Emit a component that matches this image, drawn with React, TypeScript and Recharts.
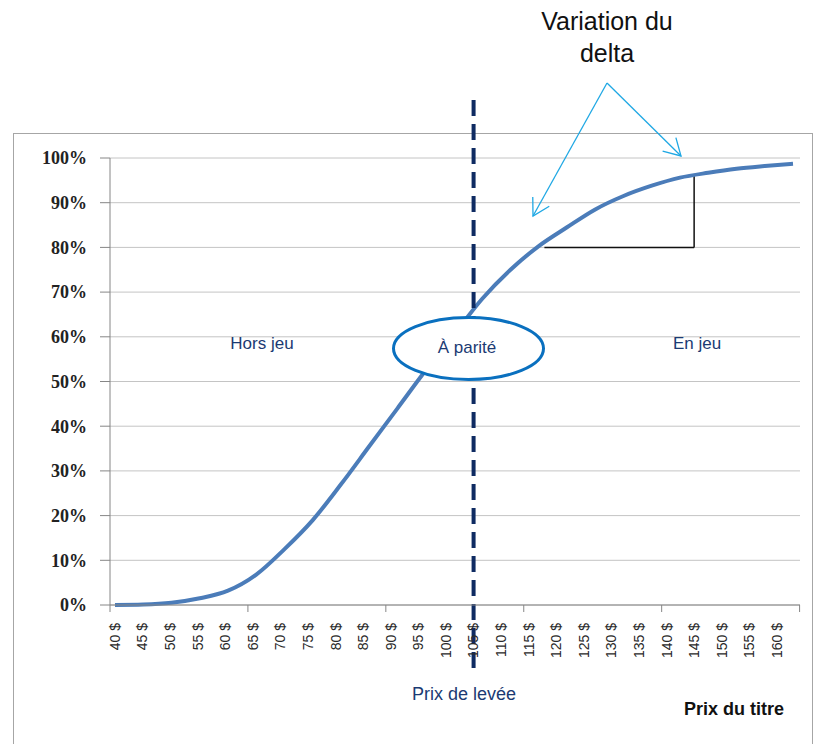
import { LineChart, Line, XAxis, YAxis, CartesianGrid, ReferenceLine } from 'recharts';

// Prix du titre (x) and delta of the option (y, in %)
const prices = [40, 45, 50, 55, 60, 65, 70, 75, 80, 85, 90, 95, 100, 105, 110, 115, 120, 125, 130, 135, 140, 145, 150, 155, 160];
const priceLabels = prices.map((p) => `${p} $`);
const deltaValues = [0, 0.1, 0.5, 1.5, 3.2, 6.8, 12.5, 19, 27, 35.5, 44, 52.5, 60.5, 68.5, 75, 80.3, 84.5, 88.5, 91.5, 93.8, 95.6, 96.7, 97.6, 98.2, 98.7];
const yTicks = [0, 10, 20, 30, 40, 50, 60, 70, 80, 90, 100];

const strikeLabel = '105 $';
// delta triangle drawn under the curve (price, %)
const triangleStart = 116;
const triangleEnd = 142.5;
const triangleLow = 80;
const triangleHigh = 96.2;

const NAVY = '#1B3A73';
const ARROW = '#1FA8E4';

const data = prices.map((p, i) => ({ price: p, label: priceLabels[i], delta: deltaValues[i] }));

const PriceTick = (props: any) => {
  const { x, y, payload, index } = props;
  const step = 27.58;
  return (
    <g>
      {index % 5 === 0 && <line x1={x - 5} x2={x - 5} y1={y} y2={y + 7} stroke="#868686" />}
      {index === prices.length - 1 && (
        <line x1={x + step - 5} x2={x + step - 5} y1={y} y2={y + 7} stroke="#868686" />
      )}
      <text
        x={x}
        y={y + 18}
        dy="0.35em"
        transform={`rotate(-90, ${x}, ${y + 18})`}
        textAnchor="end"
        fontFamily="'Liberation Sans', Arial, sans-serif"
        fontSize={14}
        fill="#2a2a2a"
      >
        {payload.value}
      </text>
    </g>
  );
};

function arrowHead(x1: number, y1: number, x2: number, y2: number, len = 19, spread = 0.52) {
  const a = Math.atan2(y2 - y1, x2 - x1);
  const ax = x2 - len * Math.cos(a - spread);
  const ay = y2 - len * Math.sin(a - spread);
  const bx = x2 - len * Math.cos(a + spread);
  const by = y2 - len * Math.sin(a + spread);
  return `M${ax},${ay} L${x2},${y2} L${bx},${by}`;
}

export default function App() {
  const apex = { x: 607, y: 83 };
  const leftTip = { x: 533, y: 216 };
  const rightTip = { x: 681, y: 156 };

  return (
    <div
      style={{
        position: 'absolute',
        left: 0,
        top: 0,
        width: 825,
        height: 744,
        overflow: 'hidden',
        background: '#fff',
        fontFamily: "'Liberation Sans', Arial, sans-serif",
      }}
    >
      <div
        style={{
          position: 'absolute',
          left: 13,
          top: 133,
          width: 798,
          height: 640,
          border: '1.5px solid #a6a6a6',
        }}
      />
      <div style={{ position: 'absolute', left: 0, top: 0 }}>
        <LineChart width={825} height={744} data={data} margin={{ top: 158, right: 25, bottom: 69, left: 50 }}>
          <CartesianGrid vertical={false} stroke="#c4c4c4" strokeWidth={1} />
          <XAxis
            xAxisId="lbl"
            dataKey="label"
            type="category"
            scale="point"
            padding={{ left: 5, right: 23 }}
            height={70}
            interval={0}
            tickSize={0}
            tickMargin={0}
            tickLine={false}
            axisLine={{ stroke: '#868686' }}
            tick={<PriceTick />}
          />
          <XAxis
            xAxisId="main"
            dataKey="price"
            type="number"
            domain={[40, 160]}
            padding={{ left: 5, right: 7 }}
            hide
          />
          <YAxis
            domain={[0, 100]}
            ticks={yTicks}
            width={60}
            tickSize={10}
            tickMargin={13}
            interval={0}
            tickFormatter={(v) => `${v}%`}
            axisLine={{ stroke: '#868686' }}
            tickLine={{ stroke: '#868686' }}
            tick={{
              fontFamily: "'Liberation Serif', 'Times New Roman', serif",
              fontWeight: 'bold',
              fontSize: 18,
              fill: '#222',
            }}
          />
          <ReferenceLine
            xAxisId="main"
            segment={[
              { x: triangleStart, y: triangleLow },
              { x: triangleEnd, y: triangleLow },
            ]}
            stroke="#111"
            strokeWidth={1.5}
          />
          <ReferenceLine
            xAxisId="main"
            segment={[
              { x: triangleEnd, y: triangleLow },
              { x: triangleEnd, y: triangleHigh },
            ]}
            stroke="#111"
            strokeWidth={1.5}
          />
          <Line
            xAxisId="main"
            type="monotone"
            dataKey="delta"
            stroke="#4B7CB9"
            strokeWidth={4}
            dot={false}
            activeDot={false}
            isAnimationActive={false}
          />
          <ReferenceLine
            xAxisId="lbl"
            ifOverflow="visible"
            segment={[
              { x: strikeLabel, y: 113 },
              { x: strikeLabel, y: -15 },
            ]}
            stroke="#0F2B62"
            strokeWidth={4}
            strokeDasharray="16 8"
          />
        </LineChart>
      </div>
      <svg width={825} height={744} style={{ position: 'absolute', left: 0, top: 0, pointerEvents: 'none' }}>
        <text x={607} y={30} textAnchor="middle" fontSize={25} fill="#111">
          Variation du
        </text>
        <text x={607} y={62} textAnchor="middle" fontSize={25} fill="#111">
          delta
        </text>
        <g stroke={ARROW} strokeWidth={1.3} fill="none">
          <line x1={apex.x} y1={apex.y} x2={leftTip.x} y2={leftTip.y} />
          <line x1={apex.x} y1={apex.y} x2={rightTip.x} y2={rightTip.y} />
          <path d={arrowHead(apex.x, apex.y, leftTip.x, leftTip.y)} />
          <path d={arrowHead(apex.x, apex.y, rightTip.x, rightTip.y)} />
        </g>
        <text x={262} y={349} textAnchor="middle" fontSize={17} fill={NAVY}>
          Hors jeu
        </text>
        <text x={697} y={349} textAnchor="middle" fontSize={17} fill={NAVY}>
          En jeu
        </text>
        <ellipse cx={468.5} cy={348.5} rx={75} ry={31} fill="#fff" stroke="#0A70BF" strokeWidth={3} />
        <text x={467} y={353} textAnchor="middle" fontSize={17} fill={NAVY}>
          À parité
        </text>
        <text x={464} y={700} textAnchor="middle" fontSize={18} fill={NAVY}>
          Prix de levée
        </text>
        <text x={734} y={715} textAnchor="middle" fontSize={18} fontWeight="bold" fill="#111">
          Prix du titre
        </text>
      </svg>
    </div>
  );
}
